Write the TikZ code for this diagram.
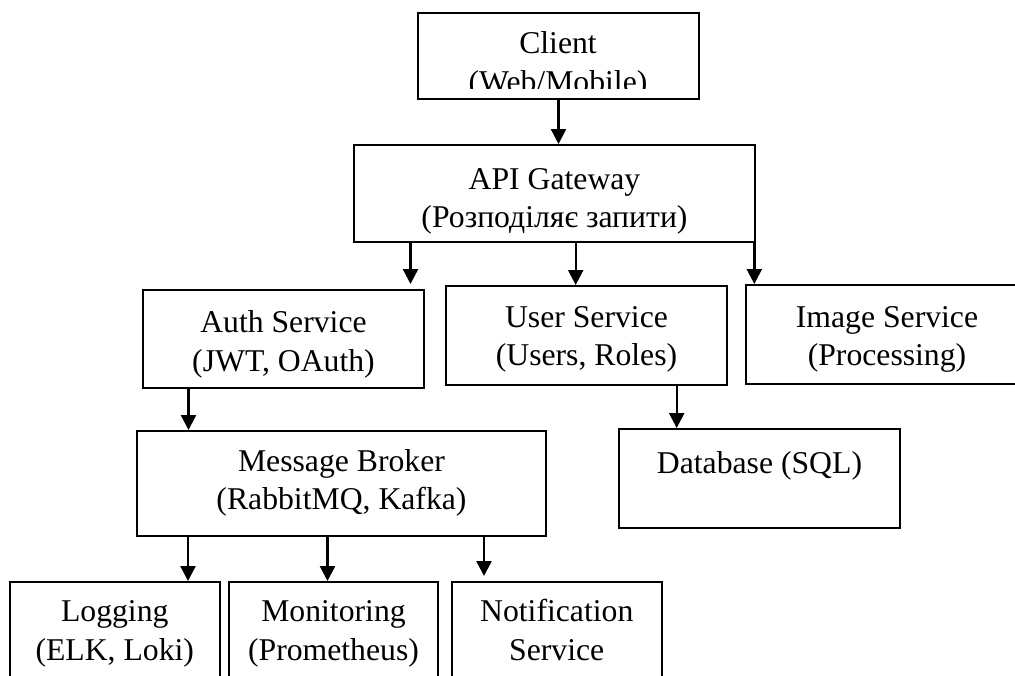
\documentclass[tikz,border=0pt]{standalone}
\usepackage{fontspec}
\setmainfont{Liberation Serif}
\usetikzlibrary{arrows.meta,calc}
\begin{document}
\begin{tikzpicture}[x=1pt,y=-1pt,
  box/.style={draw=black, line width=2pt, rectangle, inner sep=0pt},
  lbl/.style={align=center, inner sep=0pt, font=\fontsize{31.7}{38.5}\selectfont},
  arr/.style={line width=2.4pt, -{Triangle[length=15pt,width=15pt]}}]
\clip (0,0) rectangle (1015,675);
% boxes
\node[box, minimum width=281pt, minimum height=86pt] (client) at (558.5,56) {};
\node[box, minimum width=401pt, minimum height=97pt] (api) at (554.5,193.5) {};
\node[box, minimum width=281pt, minimum height=98pt] (auth) at (283.5,339) {};
\node[box, minimum width=281pt, minimum height=99pt] (user) at (586.5,335.5) {};
\node[box, minimum width=282pt, minimum height=99pt] (image) at (887,334.5) {};
\node[box, minimum width=409pt, minimum height=105pt] (mb) at (341.5,483.5) {};
\node[box, minimum width=281pt, minimum height=99pt] (db) at (759.5,478.5) {};
\node[box, minimum width=209.5pt, minimum height=118pt] (log) at (114.75,641) {};
\node[box, minimum width=209pt, minimum height=118pt] (mon) at (333.5,641) {};
\node[box, minimum width=210.5pt, minimum height=118pt] (notif) at (556.75,641) {};
% texts
\begin{scope}
\clip (418,13) rectangle (699,88.5);
\node[lbl] (tclient) at (558,65.5) {Client\\(Web/Mobile)};
\end{scope}
\node[lbl] (tapi) at (554.5,201.5) {API Gateway\\(Розподіляє запити)};
\node[lbl] (tauth) at (283.5,344.5) {Auth Service\\(JWT, OAuth)};
\node[lbl] (tuser) at (586.5,339.5) {User Service\\(Users, Roles)};
\node[lbl] (timage) at (887,339.5) {Image Service\\(Processing)};
\node[lbl] (tmb) at (341.5,483) {Message Broker\\(RabbitMQ, Kafka)};
\node[lbl] (tdb) at (759.5,465.5) {Database (SQL)};
\node[lbl] (tlog) at (114.75,633.5) {\strut Logging\\\strut (ELK, Loki)};
\node[lbl] (tmon) at (333.5,633.5) {\strut Monitoring\\\strut (Prometheus)};
\node[lbl] (tnotif) at (556.75,633.5) {\strut Notification\\\strut Service};
% connectors
\coordinate (xa) at (410.5,0);
\coordinate (xu) at (575.7,0);
\coordinate (xi) at (754.3,0);
\coordinate (xm) at (188.5,0);
\coordinate (xd) at (676.7,0);
\coordinate (xl) at (188,0);
\coordinate (xo) at (327.5,0);
\coordinate (xn) at (484,0);
\draw[arr] (client.south) -- (client.south |- api.north);
\draw[arr] (xa |- api.south) -- ([yshift=5pt]xa |- auth.north);
\draw[arr] (xu |- api.south) -- (xu |- user.north);
\draw[arr] (xi |- api.south) -- (xi |- image.north);
\draw[arr] (xm |- auth.south) -- (xm |- mb.north);
\draw[arr] (xd |- user.south) -- (xd |- db.north);
\draw[arr] (xl |- mb.south) -- (xl |- log.north);
\draw[arr] (xo |- mb.south) -- (xo |- mon.north);
\draw[arr] (xn |- mb.south) -- ([yshift=5pt]xn |- notif.north);
\end{tikzpicture}
\end{document}
